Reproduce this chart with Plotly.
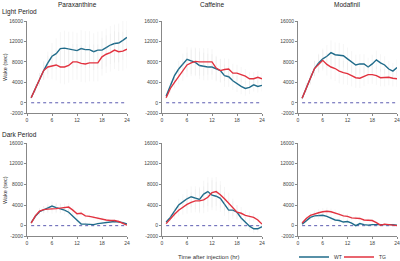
import plotly.graph_objects as go

hours = list(range(1, 25))
drugs = ["Paraxanthine", "Caffeine", "Modafinil"]
periods = ["Light Period", "Dark Period"]
y_ticks = [-2000, 0, 4000, 8000, 12000, 16000]
y_tick_labels = ["-2000", "0", "4000", "8000", "12000", "16000"]
x_ticks = [0, 6, 12, 18, 24]

# Wake (sec), values in thousands
light_para_wt = [1.0, 2.8, 4.6, 6.3, 7.8, 9.1, 9.6, 10.6, 10.7, 10.5, 10.4, 10.2, 10.6, 10.4, 10.4, 10.0, 10.3, 10.3, 10.8, 11.3, 11.6, 11.7, 12.2, 12.8]
light_para_tg = [1.0, 2.8, 4.6, 6.3, 7.0, 7.2, 7.4, 7.0, 7.0, 7.3, 8.0, 8.0, 7.7, 7.6, 7.8, 7.8, 7.8, 9.0, 9.5, 9.8, 10.3, 10.0, 10.1, 10.5]
light_caf_wt = [1.3, 3.5, 5.3, 6.6, 7.6, 8.5, 8.2, 7.9, 7.3, 7.1, 7.0, 7.0, 6.6, 6.3, 5.3, 5.1, 4.3, 3.7, 3.2, 2.8, 3.0, 3.5, 3.2, 3.4]
light_caf_tg = [1.0, 2.8, 4.0, 5.2, 6.3, 7.4, 7.8, 8.1, 8.0, 8.0, 8.1, 8.0, 6.8, 6.3, 6.5, 6.6, 5.8, 5.8, 5.5, 5.2, 4.7, 4.7, 5.0, 4.7]
light_mod_wt = [0.9, 3.0, 4.8, 6.7, 7.8, 8.6, 9.1, 9.8, 9.4, 9.3, 9.2, 8.6, 8.0, 7.4, 7.6, 7.6, 7.0, 7.6, 8.4, 7.8, 7.4, 6.6, 6.2, 6.9]
light_mod_tg = [0.9, 3.0, 4.8, 6.7, 7.6, 8.3, 7.5, 7.0, 6.7, 6.2, 5.9, 5.7, 5.3, 4.9, 4.8, 5.2, 5.5, 5.5, 5.3, 4.9, 4.9, 5.0, 4.8, 4.7]
dark_para_wt = [0.6, 1.8, 2.7, 3.1, 3.5, 3.8, 3.5, 3.3, 3.0, 2.6, 1.8, 0.9, 0.3, 0.3, 0.2, 0.2, 0.4, 0.5, 0.6, 0.7, 0.8, 0.7, 0.6, 0.3]
dark_para_tg = [0.5, 1.9, 2.8, 3.1, 3.2, 3.2, 3.3, 3.4, 3.5, 3.6, 3.0, 2.3, 2.4, 1.9, 1.8, 1.6, 1.4, 1.3, 1.1, 1.0, 1.0, 0.8, 0.4, 0.1]
dark_caf_wt = [0.7, 1.6, 2.8, 4.0, 4.6, 5.2, 5.6, 5.4, 5.1, 6.1, 6.6, 5.9, 5.7, 5.3, 4.2, 3.0, 3.0, 2.6, 1.5, 0.6, -0.1, -0.6, -0.6, -0.2]
dark_caf_tg = [0.4, 1.4, 2.2, 3.0, 3.6, 4.1, 4.5, 4.8, 4.8, 5.0, 5.5, 6.4, 6.6, 6.0, 5.2, 4.4, 3.5, 2.6, 2.4, 2.0, 1.8, 1.6, 1.1, 0.3]
dark_mod_wt = [0.3, 1.0, 1.6, 1.9, 2.0, 2.0, 1.8, 1.4, 1.1, 1.0, 0.7, 0.8, 0.5, 0.0, 0.4, 0.2, 0.1, 0.2, 0.2, 0.3, 0.3, 0.3, 0.2, 0.1]
dark_mod_tg = [0.5, 1.4, 2.0, 2.3, 2.5, 2.7, 2.8, 2.7, 2.5, 2.2, 1.9, 1.8, 1.5, 1.5, 1.4, 1.1, 1.1, 1.0, 0.6, 0.1, 0.3, 0.2, 0.1, 0.0]

# approximate error (thousands)
light_para_err = [0.3, 0.8, 1.2, 1.8, 2.2, 2.6, 3.0, 3.2, 3.4, 3.4, 3.5, 3.5, 3.6, 3.6, 3.6, 3.6, 3.6, 3.7, 3.7, 3.7, 3.7, 3.8, 3.8, 3.8]
light_caf_err = [0.3, 0.8, 1.2, 1.6, 2.0, 2.4, 2.6, 2.7, 2.7, 2.7, 2.6, 2.5, 2.4, 2.3, 2.2, 2.0, 1.8, 1.6, 1.5, 1.4, 1.3, 1.3, 1.2, 1.2]
light_mod_err = [0.3, 0.8, 1.2, 1.5, 1.8, 2.0, 2.2, 2.4, 2.4, 2.4, 2.3, 2.2, 2.1, 2.0, 1.9, 1.9, 1.8, 1.8, 1.8, 1.7, 1.7, 1.6, 1.6, 1.6]
dark_para_err = [0.2, 0.4, 0.6, 0.7, 0.8, 0.9, 0.9, 0.9, 0.8, 0.8, 0.7, 0.6, 0.5, 0.5, 0.4, 0.4, 0.4, 0.4, 0.4, 0.3, 0.3, 0.3, 0.3, 0.2]
dark_caf_err = [0.3, 0.6, 0.9, 1.2, 1.5, 1.8, 2.0, 2.2, 2.4, 2.6, 2.8, 2.9, 2.8, 2.6, 2.3, 2.0, 1.7, 1.4, 1.2, 1.0, 0.9, 0.8, 0.7, 0.5]
dark_mod_err = [0.2, 0.4, 0.5, 0.6, 0.7, 0.7, 0.7, 0.6, 0.6, 0.5, 0.5, 0.5, 0.4, 0.4, 0.4, 0.3, 0.3, 0.3, 0.3, 0.2, 0.2, 0.2, 0.2, 0.2]

panels = [
    [(light_para_wt, light_para_tg, light_para_err), (light_caf_wt, light_caf_tg, light_caf_err), (light_mod_wt, light_mod_tg, light_mod_err)],
    [(dark_para_wt, dark_para_tg, dark_para_err), (dark_caf_wt, dark_caf_tg, dark_caf_err), (dark_mod_wt, dark_mod_tg, dark_mod_err)],
]

W, H = 400, 261
WT_COLOR = "#1f6b8a"
TG_COLOR = "#e2323f"
ZERO_COLOR = "#4a4aa8"
AX_COLOR = "#888888"
ERR_COLOR = "rgba(200,200,200,0.35)"
FONT = "Liberation Sans, Arial, sans-serif"

x_px = [(27, 127), (162, 262), (298, 397)]
y_px = [(21, 113), (143, 236)]

fig = go.Figure()
layout = dict(
    width=W, height=H, margin=dict(l=0, r=0, t=0, b=0, autoexpand=False),
    paper_bgcolor="white", plot_bgcolor="white",
    font=dict(family=FONT, size=5, color="#333333"),
    showlegend=True,
)

k = 0
for r in range(2):
    for c in range(3):
        k += 1
        xa = "x" if k == 1 else f"x{k}"
        ya = "y" if k == 1 else f"y{k}"
        wt, tg, err = panels[r][c]
        e = [v * 1000 for v in err]
        fig.add_trace(go.Scatter(x=[1, 24], y=[0, 0], mode="lines", xaxis=xa, yaxis=ya,
                                 line=dict(color=ZERO_COLOR, width=0.9, dash="dot"), showlegend=False, hoverinfo="skip"))
        fig.add_trace(go.Scatter(x=hours, y=[v * 1000 for v in wt], mode="lines", xaxis=xa, yaxis=ya,
                                 line=dict(color=WT_COLOR, width=1.4), name="WT", showlegend=(k == 1), legend="legend",
                                 error_y=dict(type="data", array=e, color=ERR_COLOR, thickness=0.5, width=0)))
        fig.add_trace(go.Scatter(x=hours, y=[v * 1000 for v in tg], mode="lines", xaxis=xa, yaxis=ya,
                                 line=dict(color=TG_COLOR, width=1.4), name="TG", showlegend=(k == 1), legend="legend2",
                                 error_y=dict(type="data", array=e, color=ERR_COLOR, thickness=0.5, width=0)))
        x0, x1 = x_px[c]
        y0, y1 = y_px[r]
        xkey = "xaxis" if k == 1 else f"xaxis{k}"
        ykey = "yaxis" if k == 1 else f"yaxis{k}"
        layout[xkey] = dict(domain=[x0 / W, x1 / W], range=[0, 24], anchor=ya, automargin=False,
                            tickvals=x_ticks, ticks="outside", ticklen=2, tickcolor=AX_COLOR,
                            showline=True, linecolor=AX_COLOR, linewidth=0.8, showgrid=False, zeroline=False,
                            tickfont=dict(size=5, color="#444444"))
        layout[ykey] = dict(domain=[1 - y1 / H, 1 - y0 / H], range=[-2000, 16000], anchor=xa, automargin=False,
                            tickvals=y_ticks, ticktext=y_tick_labels, ticks="outside", ticklen=2, tickcolor=AX_COLOR,
                            showline=True, linecolor=AX_COLOR, linewidth=0.8, showgrid=False, zeroline=False,
                            tickfont=dict(size=5, color="#444444"))

annotations = []
for c, d in enumerate(drugs):
    x0, x1 = x_px[c]
    annotations.append(dict(text=d, x=(x0 + x1) / 2 / W, y=1 - 4 / H, xref="paper", yref="paper",
                            showarrow=False, font=dict(size=6.5, color="#222222"), xanchor="center", yanchor="middle"))
annotations.append(dict(text=periods[0], x=0, y=1 - 12 / H, xref="paper", yref="paper", showarrow=False,
                        font=dict(size=6.5, color="#222222"), xanchor="left", yanchor="middle"))
annotations.append(dict(text=periods[1], x=0, y=1 - 134 / H, xref="paper", yref="paper", showarrow=False,
                        font=dict(size=6.5, color="#222222"), xanchor="left", yanchor="middle"))
for yc in [67, 190]:
    annotations.append(dict(text="Wake (sec)", x=5 / W, y=1 - yc / H, xref="paper", yref="paper", showarrow=False,
                            textangle=-90, font=dict(size=5.5, color="#333333"), xanchor="center", yanchor="middle"))
annotations.append(dict(text="Time after injection (hr)", x=208 / W, y=1 - 257 / H, xref="paper", yref="paper",
                        showarrow=False, font=dict(size=6, color="#333333"), xanchor="center", yanchor="middle"))
layout["annotations"] = annotations
leg_common = dict(orientation="h", yanchor="middle", font=dict(size=5, color="#333333"),
                  bgcolor="rgba(0,0,0,0)", itemwidth=30, borderwidth=0)
layout["legend"] = dict(x=294 / W, y=1 - 257 / H, xanchor="left", **leg_common)
layout["legend2"] = dict(x=339 / W, y=1 - 257 / H, xanchor="left", **leg_common)

fig.update_layout(**layout)
fig.write_html("out.html", config={"displayModeBar": False},
               post_script="document.body.style.margin='0';")
